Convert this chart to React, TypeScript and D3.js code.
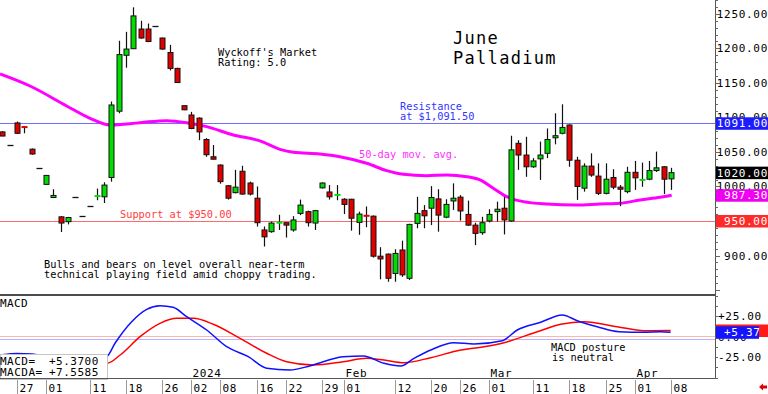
import { useEffect } from "react"
import * as d3 from "d3"

const W = 768
const H = 394
const FONT = "DejaVu Sans Mono"

// trading days, Nov 22 2023 .. Apr 08 2024
const dates = (
  "11-22 11-24 11-27 11-28 11-29 11-30 " +
  "12-01 12-04 12-05 12-06 12-07 12-08 12-11 12-12 12-13 12-14 12-15 12-18 12-19 12-20 12-21 12-22 12-26 12-27 12-28 12-29 " +
  "01-02 01-03 01-04 01-05 01-08 01-09 01-10 01-11 01-12 01-16 01-17 01-18 01-19 01-22 01-23 01-24 01-25 01-26 01-29 01-30 01-31 " +
  "02-01 02-02 02-05 02-06 02-07 02-08 02-09 02-12 02-13 02-14 02-15 02-16 02-20 02-21 02-22 02-23 02-26 02-27 02-28 02-29 " +
  "03-01 03-04 03-05 03-06 03-07 03-08 03-11 03-12 03-13 03-14 03-15 03-18 03-19 03-20 03-21 03-22 03-25 03-26 03-27 03-28 " +
  "04-01 04-02 04-03 04-04 04-05 04-08"
).split(" ")

const opens = [
  1079, 1060.5, 1092, 1087, 1054, 1027,
  1003, 984, 956, 949, 985, 957, 971, 985.5, 985, 1013, 1109, 1190, 1199.5, 1228, 1228, 1232, 1215, 1194, 1171, 1117,
  1103.5, 1099, 1068, 1043, 1031, 1001, 991, 1022, 1005, 983, 937, 934.5, 947, 947.5, 937, 961, 963.5, 947, 998, 992, 987,
  981.5, 981.5, 948, 958, 957, 899, 902, 874, 908, 867, 946.5, 965, 968.5, 982, 955.5, 979, 984.5, 959.5, 944, 933,
  950, 963.5, 968.5, 950, 1062.5, 1045.5, 1028.5, 1040, 1048, 1070.5, 1077, 1089, 1038, 997.5, 1029.5, 1015, 990, 1013, 999, 992.5,
  1020.5, 1009, 1010.5, 1023, 1028.5, 1011,
]
const highs = [
  1080, 1060.5, 1094, 1087.5, 1055, 1027,
  1016, 996, 957, 956, 985, 957, 971, 997, 1006, 1123, 1211, 1224, 1259.5, 1240, 1236, 1232, 1215.5, 1205, 1172, 1117,
  1108, 1100, 1070, 1060, 1032, 1002, 1024, 1030, 1007, 1000, 942, 949, 959, 948, 957, 981, 965, 966, 1006, 1002, 1002,
  983, 982, 963.5, 971, 958, 912, 903, 909, 921.5, 946, 985, 973, 1000.5, 996, 981.5, 1004.5, 987.5, 979.5, 947.5, 956,
  967, 978, 985, 1073.5, 1067, 1072, 1041, 1065, 1084, 1106, 1119, 1090, 1043, 1033.5, 1048, 1033.5, 1033.5, 1025, 1002, 1028.5,
  1037, 1034.5, 1037, 1050.5, 1029.5, 1027,
]
const lows = [
  1073, 1060.5, 1076, 1077, 1046, 1027,
  1003, 983.5, 934, 945, 985, 957, 971, 980, 976, 1007, 1106, 1172, 1199, 1214, 1209, 1232, 1198, 1168, 1150, 1110.5,
  1083, 1067, 1043, 1039, 1004, 981, 990, 988, 987, 942, 913, 933, 937, 926, 934.5, 958.5, 942, 937, 997, 981, 980,
  960, 936, 930, 941, 897, 865.5, 862, 862, 869, 864.5, 939.5, 939.5, 944, 934.5, 954, 966, 950.5, 943, 915, 930,
  948, 949, 930.5, 949, 1024, 1014, 1027, 1009.5, 1041, 1061, 1075.5, 1028.5, 980.5, 992.5, 1014, 987.5, 988.5, 996, 971.5, 990,
  995, 999.5, 1009, 1021, 989, 995,
]
const closes = [
  1073, 1060.5, 1077, 1085, 1047, 1027,
  1016, 987, 947, 955, 985, 957, 971, 986.5, 1002, 1118, 1191, 1199, 1247, 1215, 1210, 1232, 1199, 1171, 1150.5, 1111,
  1084, 1079, 1046, 1039.5, 1007, 983, 999, 989, 989, 947.5, 927, 947, 948, 944, 951.5, 973, 947.5, 965, 1005, 985, 988.5,
  974, 954, 960, 957, 899, 895, 867, 903, 872, 945, 961, 957.5, 984, 958.5, 974, 983, 964.5, 944, 932, 947.5,
  959.5, 967, 951.5, 1053, 1045.5, 1028.5, 1037, 1045.5, 1068, 1073.5, 1085.5, 1038, 1000, 1029.5, 1016.5, 990, 1010.5, 999, 996, 1020.5,
  1012.5, 1010, 1023, 1027, 1010.5, 1020,
]

// 50-day moving average (position in trading days, value)
const maPos = [-0.34, 3.79, 8.84, 12.05, 14.8, 18.93, 22.6, 25.35, 28.1, 31.76, 35.44, 38.19, 40.02, 43.7, 46.43, 50.12, 52.87, 55.16, 58.38, 61.13, 63.88, 65.71, 67.54, 69.39, 71.67, 74.89, 79.02, 82.23, 84.98, 87.73, 90.48, 92.09]
const maVal = [1163, 1145.5, 1116.6, 1098.7, 1089, 1092.4, 1095.3, 1092.4, 1086.6, 1074.6, 1066, 1053.8, 1049.5, 1047, 1043.1, 1033.6, 1022.9, 1017.6, 1015.6, 1016.6, 1014.2, 1009.4, 997.4, 985.2, 978, 974.6, 973.2, 974.6, 975.6, 980.4, 984.3, 987.3]

// MACD (blue) and MACDA (red)
const macdPos = [0, 2, 4, 7, 11, 14.38, 15.49, 17.78, 19.85, 21.68, 23.47, 25.35, 28.1, 30.86, 33.83, 36.36, 39.57, 41.87, 44.15, 46.9, 49.65, 52.5, 54.8, 56.63, 58.93, 62.13, 64.89, 68.78, 70.85, 74.07, 77.04, 79.1, 81.85, 84.84, 88.28, 90.58, 91.95]
const macdVal = [-22, -20.5, -21, -27, -31, -24, -8, 18.3, 33.4, 37.8, 35.8, 24.4, 8.2, -12.2, -24.4, -38.5, -40.6, -36.6, -30.5, -24.4, -23.5, -32.4, -35.7, -26.5, -16.2, -7.3, -8.9, -4.9, 8.2, 17.6, 26.5, 19.5, 12.2, 6.1, 5.4, 6.1, 5.37]
const signalPos = [0, 5, 10, 14.38, 16.2, 18.93, 21.68, 23.98, 26.26, 29.01, 32.69, 36.36, 39.11, 42.77, 46.9, 50.12, 52.5, 55.25, 58.93, 63.06, 66.27, 69.02, 73.6, 76.82, 80.03, 84.6, 88.28, 91.95]
const signalVal = [-24, -26, -31, -32.4, -22.3, 0, 16.3, 22.4, 22.4, 15.1, -2, -20.2, -30.5, -34.5, -30.5, -26.3, -28.4, -31.7, -25.6, -16.2, -12.2, -7.3, 6.1, 15.1, 18.3, 12.2, 7.3, 7.56]

const priceTicks = [1250, 1200, 1150, 1100, 1050, 1000, 950, 900]
const macdTicks = [25, -25]
const tickDates = ["11-27", "12-01", "12-11", "12-18", "12-26", "01-02", "01-08", "01-16", "01-22", "01-29", "02-01", "02-12", "02-20", "02-26", "03-01", "03-11", "03-18", "03-25", "04-01", "04-08"]
const monthDates = ["01-02", "02-01", "03-01", "04-01"]
const monthLabels = ["2024", "Feb", "Mar", "Apr"]

const resistance = 1091.5
const support = 950
const macdRefPink = 0.8
const macdRefBlue = -3.2

const priceTags = [
  { v: 1091.5, text: "1091.00", fill: "#1c1cff" },
  { v: 1020, text: "1020.00", fill: "#000000" },
  { v: 987.3, text: "987.30", fill: "#f000f0" },
  { v: 950, text: "950.00", fill: "#ff2a2a" },
]

const GREEN = "#00dd00"
const RED = "#e00000"

export default function App() {
  useEffect(() => {
    document.body.style.margin = "0"
  }, [])

  const plotRight = 715
  const x = d3.scaleLinear().domain([2, 92]).range([17, 671])
  const y = d3.scaleLinear().domain([1250, 900]).range([13.85, 255.5])
  const ym = d3.scaleLinear().domain([25, -25]).range([316.2, 357.2])
  const px = (i: number) => Math.round(x(i)) + 0.5

  const maLine = d3
    .line<number>()
    .x((_, i) => x(maPos[i]))
    .y((d) => y(d))
    .curve(d3.curveMonotoneX)
  const macdLine = d3
    .line<number>()
    .x((_, i) => x(macdPos[i]))
    .y((d) => ym(d))
    .curve(d3.curveMonotoneX)
  const signalLine = d3
    .line<number>()
    .x((_, i) => x(signalPos[i]))
    .y((d) => ym(d))
    .curve(d3.curveMonotoneX)

  const small = { fontFamily: FONT, fontSize: 10.3 }
  const axisFont = { fontFamily: FONT, fontSize: 11, letterSpacing: 0.6 }
  const bw = 5

  const priceMinor = d3.range(850, 1271, 10)
  const macdMinor = d3.range(-50, 51, 12.5)

  return (
    <svg width={W} height={H} style={{ display: "block", background: "#fff" }}>
      <defs>
        <clipPath id="plot">
          <rect x={0} y={0} width={plotRight} height={295} />
        </clipPath>
        <clipPath id="macd">
          <rect x={0} y={296} width={plotRight} height={82} />
        </clipPath>
      </defs>

      {/* support / resistance */}
      <line x1={0} x2={plotRight} y1={Math.round(y(resistance)) + 0.5} y2={Math.round(y(resistance)) + 0.5} stroke="#7070ff" />
      <line x1={0} x2={plotRight} y1={Math.round(y(support)) + 0.5} y2={Math.round(y(support)) + 0.5} stroke="#ff6a6a" />

      {/* text notes */}
      <text x={218} y={55.5} {...small}>Wyckoff's Market</text>
      <text x={218} y={65.5} {...small}>Rating: 5.0</text>
      <text x={453} y={43.5} fontFamily={FONT} fontSize={17} letterSpacing={1.3}>June</text>
      <text x={453} y={63.5} fontFamily={FONT} fontSize={17} letterSpacing={1.3}>Palladium</text>
      <text x={400} y={109.5} {...small} fill="#3434ff">Resistance</text>
      <text x={400} y={119.5} {...small} fill="#3434ff">at $1,091.50</text>
      <text x={359} y={157.5} {...small} fill="#ff30ff">50-day mov. avg.</text>
      <text x={120} y={218.3} {...small} fill="#ff4040">Support at $950.00</text>
      <text x={44} y={267.5} {...small}>Bulls and bears on level overall near-term</text>
      <text x={44} y={278} {...small}>technical playing field amid choppy trading.</text>

      <g clipPath="url(#plot)">
        {/* moving average */}
        <path d={maLine(maVal) ?? ""} fill="none" stroke="#ff00ff" strokeWidth={3} />

        {/* candles */}
        {closes.map((c, i) => {
          const o = opens[i]
          const h = highs[i]
          const l = lows[i]
          const cx = px(i)
          if (h === l) {
            return <line key={dates[i]} x1={cx - 3} x2={cx + 3} y1={Math.round(y(c)) + 0.5} y2={Math.round(y(c)) + 0.5} stroke="#111" strokeWidth={1.3} />
          }
          const color = c >= o ? GREEN : RED
          const top = Math.min(y(o), y(c))
          const bot = Math.max(y(o), y(c))
          return (
            <g key={dates[i]}>
              <line x1={cx} x2={cx} y1={y(h)} y2={y(l)} stroke="#111" strokeWidth={1.2} />
              {bot - top < 1.6 ? (
                <line x1={cx - 3} x2={cx + 3} y1={(top + bot) / 2} y2={(top + bot) / 2} stroke={color} strokeWidth={2} />
              ) : (
                <rect x={cx - bw / 2} y={top} width={bw} height={bot - top} fill={color} stroke="#111" strokeWidth={1} />
              )}
            </g>
          )
        })}
      </g>

      {/* price panel bottom */}
      <line x1={0} x2={plotRight} y1={295} y2={295} stroke="#111" strokeWidth={1.5} />

      {/* MACD panel */}
      <line x1={0} x2={plotRight} y1={Math.round(ym(macdRefPink)) + 0.5} y2={Math.round(ym(macdRefPink)) + 0.5} stroke="#ffb4b4" />
      <line x1={0} x2={plotRight} y1={Math.round(ym(macdRefBlue)) + 0.5} y2={Math.round(ym(macdRefBlue)) + 0.5} stroke="#b4b4ff" />
      <g clipPath="url(#macd)">
        <path d={signalLine(signalVal) ?? ""} fill="none" stroke="#ff0000" strokeWidth={1.5} />
        <path d={macdLine(macdVal) ?? ""} fill="none" stroke="#1010ff" strokeWidth={1.5} />
      </g>
      <text x={0} y={307} fontFamily={FONT} fontSize={11} letterSpacing={0.4}>MACD</text>
      <text x={551} y={350.8} {...small}>MACD posture</text>
      <text x={552} y={361.3} {...small}>is neutral</text>

      {monthDates.map((d, k) => (
        <text key={d} x={px(dates.indexOf(d)) + 1} y={377} {...axisFont}>{monthLabels[k]}</text>
      ))}

      {/* value box */}
      <rect x={0.5} y={354.5} width={107} height={25} fill="#fff" stroke="#c4c4c4" />
      <text x={0} y={364.5} fontFamily={FONT} fontSize={11} letterSpacing={0.5}>MACD=</text>
      <text x={49} y={364.5} fontFamily={FONT} fontSize={11} letterSpacing={0.5}>{(macdVal[macdVal.length - 1] >= 0 ? "+" : "") + macdVal[macdVal.length - 1].toFixed(4)}</text>
      <text x={0} y={375.5} fontFamily={FONT} fontSize={11} letterSpacing={0.5}>MACDA=</text>
      <text x={49} y={375.5} fontFamily={FONT} fontSize={11} letterSpacing={0.5}>{(signalVal[signalVal.length - 1] >= 0 ? "+" : "") + "7.5585"}</text>

      {/* x axis */}
      <line x1={0} x2={plotRight} y1={378.5} y2={378.5} stroke="#555" />
      {tickDates.map((d) => {
        const tx = px(dates.indexOf(d))
        return (
          <g key={d}>
            <line x1={tx} x2={tx} y1={380} y2={394} stroke="#9a9a9a" />
            <text x={tx + 2} y={391.5} {...axisFont}>{d.slice(3)}</text>
          </g>
        )
      })}
      <polygon points="759,387 763,383.5 763,385.5 767,385.5 767,388.5 763,388.5 763,390.5" fill="#e00000" />

      {/* right axis */}
      <line x1={plotRight + 0.5} x2={plotRight + 0.5} y1={0} y2={379} stroke="#555" />
      {priceMinor.map((v) => (
        <line key={v} x1={plotRight} x2={plotRight + (v % 50 === 0 ? 5 : 3)} y1={Math.round(y(v)) + 0.5} y2={Math.round(y(v)) + 0.5} stroke="#666" />
      ))}
      {macdMinor.map((v) => (
        <line key={v} x1={plotRight} x2={plotRight + 3} y1={Math.round(ym(v)) + 0.5} y2={Math.round(ym(v)) + 0.5} stroke="#666" />
      ))}
      {priceTicks.map((v) => (
        <text key={v} x={768} y={y(v) + 4} textAnchor="end" fontFamily={FONT} fontSize={11} letterSpacing={0.7}>{v.toFixed(2)}</text>
      ))}
      {macdTicks.map((v) => (
        <text key={v} x={718} y={ym(v) + 4} fontFamily={FONT} fontSize={11} letterSpacing={0.7}>{(v > 0 ? "+" : "") + v.toFixed(2)}</text>
      ))}
      <text x={718} y={ym(0) + 4} fontFamily={FONT} fontSize={11} letterSpacing={0.7}>0.00</text>

      {priceTags.map((t) => (
        <g key={t.text}>
          <rect x={716} y={y(t.v) - 6} width={52} height={12.5} fill={t.fill} />
          <text x={768} y={y(t.v) + 4.2} textAnchor="end" fill="#fff" fontFamily={FONT} fontSize={11} letterSpacing={0.7}>{t.text}</text>
        </g>
      ))}

      <rect x={716} y={ym(signalVal[signalVal.length - 1]) - 6} width={52} height={12.5} fill="#ff1a1a" />
      <rect x={716} y={ym(macdVal[macdVal.length - 1]) - 6} width={43} height={12.5} fill="#1414ff" />
      <text x={724} y={ym(macdVal[macdVal.length - 1]) + 4.2} fill="#fff" fontFamily={FONT} fontSize={11} letterSpacing={0.7}>{"+" + macdVal[macdVal.length - 1].toFixed(2)}</text>
    </svg>
  )
}
